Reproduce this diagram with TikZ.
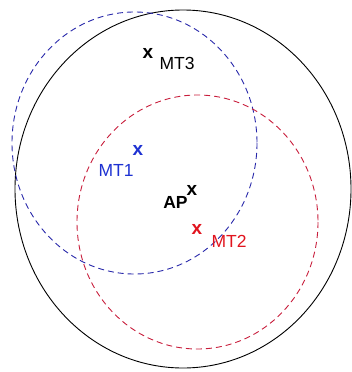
\documentclass[tikz,border=0pt]{standalone}
\usepackage{fontspec}
\setmainfont{Liberation Sans}
\definecolor{mtblue}{RGB}{30,50,210}
\definecolor{ringblue}{RGB}{40,40,170}
\definecolor{mtred}{RGB}{225,20,30}
\definecolor{ringred}{RGB}{200,30,60}
\tikzset{
  ring/.style={line width=0.9pt, dash pattern=on 6pt off 4pt},
  lbl/.style={inner sep=0pt, font=\fontsize{17.5}{17.5}\selectfont},
  cross/.style={inner sep=0pt, font=\fontsize{19}{19}\selectfont\bfseries}
}

\begin{document}
\begin{tikzpicture}[x=1pt,y=-1pt]
\useasboundingbox (0,0) rectangle (352,372);
% range of the access point and of the terminals
\draw[line width=0.9pt] (183,189) ellipse (168 and 179);
\draw[ring, ringblue] (134.5,143) ellipse (122.5 and 131);
\draw[ring, ringred] (197.5,222) ellipse (120.5 and 127);
% AP
\node[cross] (apx) at (192,190) {x};
\node[lbl, font=\fontsize{17.5}{17.5}\selectfont\bfseries] (ap) at (175.5,202) {AP};
% MT1
\node[cross, mtblue] (mt1x) at (138,150) {x};
\node[lbl, mtblue] (mt1) at (116,170) {MT1};
% MT2
\node[cross, mtred] (mt2x) at (197,229) {x};
\node[lbl, mtred] (mt2) at (229,241) {MT2};
% MT3
\node[cross] (mt3x) at (148,53) {x};
\node[lbl] (mt3) at (177,63) {MT3};
\end{tikzpicture}
\end{document}
